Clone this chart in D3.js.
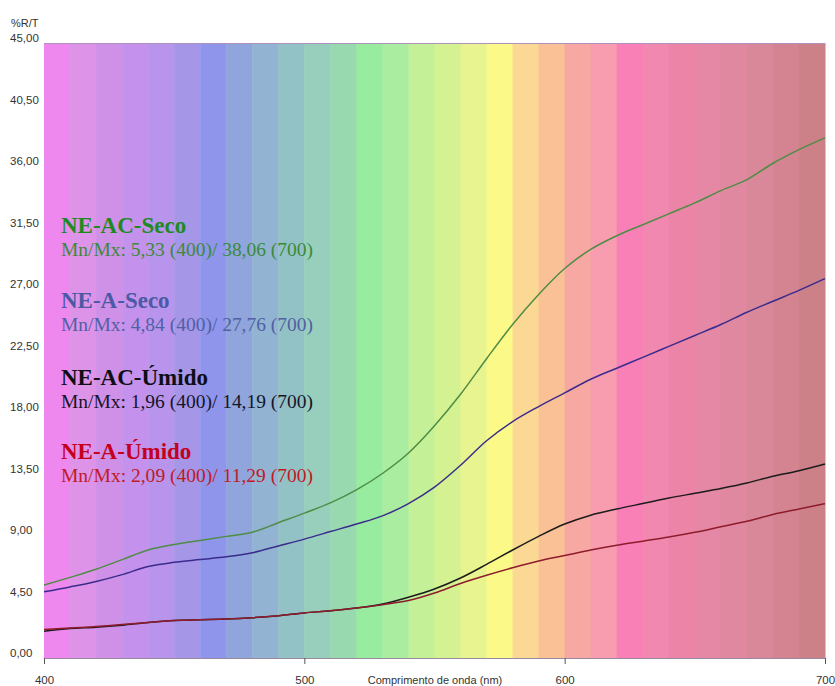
<!DOCTYPE html>
<html>
<head>
<meta charset="utf-8">
<script src="https://cdn.jsdelivr.net/npm/d3@7"></script>
<style>
  body { margin: 0; background: #fff; }
  svg { display: block; }
</style>
</head>
<body>
<svg id="svg"></svg>
<script>
// wavelengths (nm), one reading every 10 nm
const wavelengths = d3.range(400, 701, 10);

const acSeco = [5.33, 5.9, 6.5, 7.2, 7.9, 8.3, 8.6, 8.9, 9.2, 9.9, 10.6, 11.35, 12.3, 13.5, 15.0, 17.0,
    19.3, 21.9, 24.4, 26.6, 28.5, 29.9, 30.9, 31.7, 32.5, 33.3, 34.2, 35.0, 36.2, 37.2, 38.06];
const aSeco = [4.84, 5.2, 5.6, 6.1, 6.7, 7.0, 7.2, 7.4, 7.7, 8.2, 8.7, 9.25, 9.8, 10.4, 11.3, 12.5,
    14.1, 15.9, 17.3, 18.4, 19.4, 20.4, 21.2, 22.0, 22.8, 23.6, 24.4, 25.3, 26.1, 26.9, 27.76];
const acUmido = [1.96, 2.15, 2.25, 2.4, 2.6, 2.75, 2.8, 2.85, 2.95, 3.1, 3.3, 3.45, 3.65, 3.95, 4.45, 5.05,
    5.85, 6.85, 7.9, 8.9, 9.8, 10.45, 10.9, 11.3, 11.7, 12.05, 12.4, 12.8, 13.3, 13.7, 14.19];
const aUmido = [2.09, 2.2, 2.3, 2.45, 2.6, 2.75, 2.8, 2.85, 2.95, 3.1, 3.3, 3.45, 3.65, 3.9, 4.2, 4.75,
    5.45, 6.05, 6.6, 7.1, 7.5, 7.9, 8.25, 8.55, 8.85, 9.2, 9.6, 10.0, 10.5, 10.9, 11.29];

const seriesNames = ["NE-AC-Seco", "NE-A-Seco", "NE-AC-Úmido", "NE-A-Úmido"];
const seriesInfo = [
    "Mn/Mx: 5,33 (400)/ 38,06 (700)",
    "Mn/Mx: 4,84 (400)/ 27,76 (700)",
    "Mn/Mx: 1,96 (400)/ 14,19 (700)",
    "Mn/Mx: 2,09 (400)/ 11,29 (700)"
];

const yTicks = [0, 4.5, 9, 13.5, 18, 22.5, 27, 31.5, 36, 40.5, 45];
const xTicks = [400, 500, 600, 700];

// spectrum bands, 10 nm each
const bandColors = ["#ee88ee", "#dd94e8", "#cf90e8", "#c491ec", "#b894ec", "#a596e8", "#8f95ea", "#8fa5dc",
    "#92b4d2", "#93c2c6", "#98cfbc", "#98d9b0", "#98eca0", "#aaeda0", "#c4f098", "#d4f292", "#e8f490",
    "#fbfa88", "#fbd894", "#fbc196", "#f8a8a2", "#f89cb0", "#f880b6", "#f088b0", "#ec84a8", "#e488a6",
    "#e088a0", "#d88898", "#d48490", "#cc8088"];

const width = 835;
const height = 686;
const svg = d3.select("#svg").attr("width", width).attr("height", height);

const xScale = d3.scaleLinear().domain([400, 700]).range([44, 825]);
const yScale = d3.scaleLinear().domain([0, 45]).range([658, 43]);

// background bands
svg.append("g").selectAll("rect")
    .data(bandColors)
    .enter().append("rect")
    .attr("x", (d, i) => xScale(400 + i * 10))
    .attr("y", yScale(45))
    .attr("width", (d, i) => xScale(410 + i * 10) - xScale(400 + i * 10) + 0.5)
    .attr("height", yScale(0) - yScale(45))
    .attr("fill", d => d);

svg.append("line")
    .attr("x1", xScale(400)).attr("x2", xScale(700))
    .attr("y1", yScale(45) + 0.5).attr("y2", yScale(45) + 0.5)
    .attr("stroke", "#b090c0").attr("stroke-width", 1);

// y axis
const yAxis = svg.append("g")
    .attr("transform", `translate(${xScale(400)},0)`)
    .call(d3.axisLeft(yScale).tickValues(yTicks).tickSize(0)
        .tickFormat(d => d3.format(".2f")(d).replace(".", ",")));
yAxis.select(".domain").remove();
yAxis.selectAll("text")
    .attr("x", 10 - xScale(400))
    .attr("dy", "-1.5")
    .attr("text-anchor", "start")
    .style("font-family", "'Liberation Sans', Arial, sans-serif")
    .style("font-size", "11.5px")
    .attr("fill", "#333");

svg.append("text")
    .attr("x", 11).attr("y", 27)
    .style("font-family", "'Liberation Sans', Arial, sans-serif")
    .style("font-size", "11px")
    .attr("fill", "#333")
    .text("%R/T");

// x axis
const xAxis = svg.append("g")
    .attr("transform", `translate(0,${yScale(0)})`)
    .call(d3.axisBottom(xScale).tickValues(xTicks).tickSize(6).tickPadding(12).tickSizeOuter(0));
xAxis.select(".domain").attr("stroke", "#9a8aa0");
xAxis.selectAll(".tick line").attr("stroke", "#555");
xAxis.selectAll("text")
    .style("font-family", "'Liberation Sans', Arial, sans-serif")
    .style("font-size", "11.5px")
    .attr("fill", "#333");

svg.append("text")
    .attr("x", 435).attr("y", 684)
    .attr("text-anchor", "middle")
    .style("font-family", "'Liberation Sans', Arial, sans-serif")
    .style("font-size", "11px")
    .attr("fill", "#333")
    .text("Comprimento de onda (nm)");

// curves
const seriesValues = [acSeco, aSeco, acUmido, aUmido];
const lineColors = ["#4f8c45", "#3a2c8c", "#1c1c1c", "#8e1c2c"];
const line = d3.line()
    .x((d, i) => xScale(wavelengths[i]))
    .y(d => yScale(d))
    .curve(d3.curveMonotoneX);

svg.append("g").selectAll("path")
    .data(seriesValues)
    .enter().append("path")
    .attr("d", line)
    .attr("fill", "none")
    .attr("stroke", (d, i) => lineColors[i])
    .attr("stroke-width", 1.5);

// legend text
const titleColors = ["#1f8a1f", "#4a5aa4", "#0e0e14", "#c4001c"];
const infoColors = ["#3a8a3a", "#5060a4", "#15152a", "#c01a26"];
const legendTop = [233, 308, 385, 459];

seriesNames.forEach((name, i) => {
    svg.append("text")
        .attr("x", 61).attr("y", legendTop[i])
        .style("font-family", "'Liberation Serif', 'Times New Roman', serif")
        .style("font-size", "23px")
        .style("font-weight", "bold")
        .attr("fill", titleColors[i])
        .text(name);
    svg.append("text")
        .attr("x", 61).attr("y", legendTop[i] + 23)
        .attr("textLength", 252)
        .attr("lengthAdjust", "spacingAndGlyphs")
        .style("font-family", "'Liberation Serif', 'Times New Roman', serif")
        .style("font-size", "18px")
        .attr("fill", infoColors[i])
        .text(seriesInfo[i]);
});
</script>
</body>
</html>
